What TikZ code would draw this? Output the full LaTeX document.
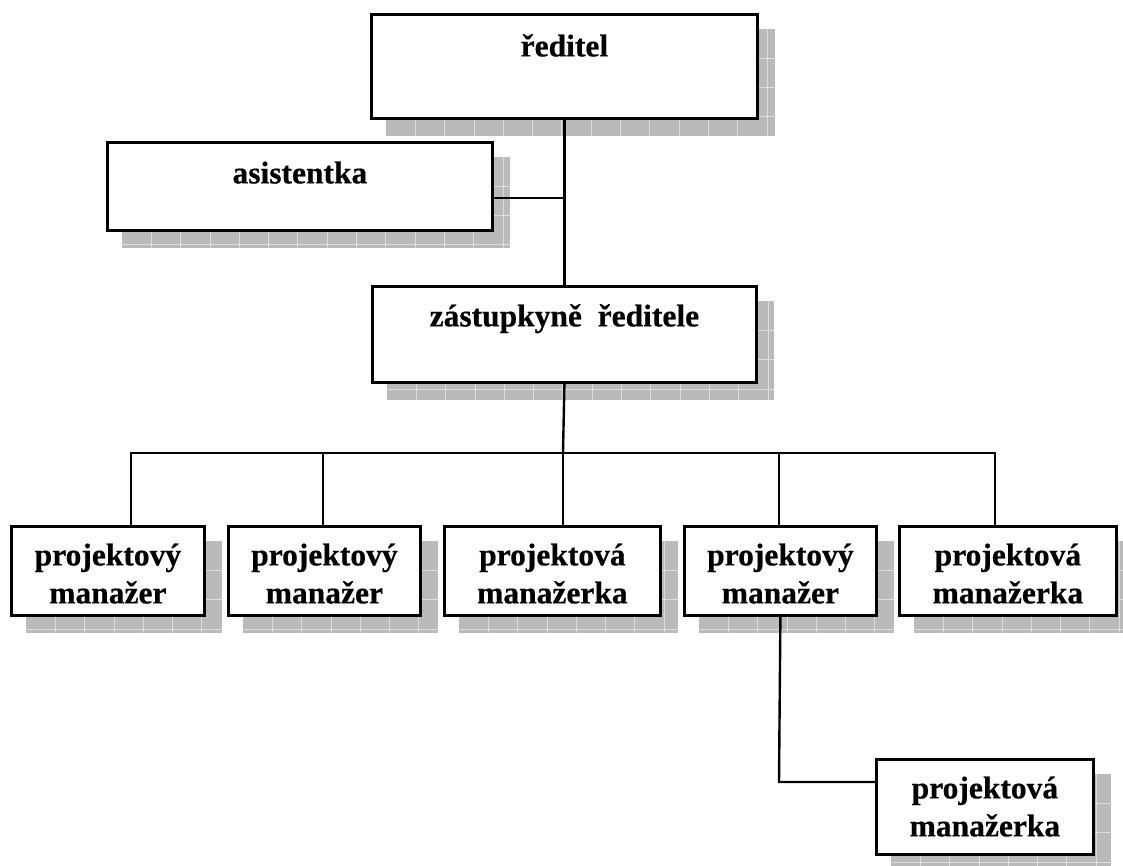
\documentclass[tikz,border=0pt]{standalone}
\usepackage{fontspec}
\setmainfont{Liberation Serif}[BoldFeatures={FakeBold=0.5}]
\usetikzlibrary{backgrounds}
\newcommand\orgfont{\fontsize{31.5}{38}\selectfont\bfseries}
\tikzset{
  unit/.style={draw, fill=white, line width=2.8pt, inner sep=0pt, anchor=north west, font=\orgfont, align=center},
  link/.style={line width=2.4pt},
  shadowfill/.style={fill=black!27},
  shadowgrid/.style={draw=black!13, line width=0.8pt}
}
\begin{document}
\begin{tikzpicture}[x=1pt,y=-1pt]
\useasboundingbox (0,0) rectangle (1123,866);
% top
\node[unit, minimum width=386pt, text height=42pt, text depth=62pt] (reditel) at (370,13) {ředitel};
\node[unit, minimum width=385pt, text height=41pt, text depth=47pt] (asistentka) at (106,141) {asistentka};
\node[unit, minimum width=384pt, text height=40pt, text depth=56pt] (zastupkyne) at (371,285) {zástupkyně\ \ ředitele};
% row of managers
\node[unit, minimum width=193pt, text height=77pt, text depth=12pt] (p1) at (10,525) {projektový\\manažer};
\node[unit, minimum width=192pt, text height=77pt, text depth=12pt] (p2) at (227,525) {projektový\\manažer};
\node[unit, minimum width=216pt, text height=77pt, text depth=12pt] (p3) at (443,525) {projektová\\manažerka};
\node[unit, minimum width=192pt, text height=77pt, text depth=12pt] (p4) at (683,525) {projektový\\manažer};
\node[unit, minimum width=217pt, text height=77pt, text depth=12pt] (p5) at (898,525) {projektová\\manažerka};
\node[unit, minimum width=217pt, text height=77pt, text depth=18pt] (p6) at (875,758) {projektová\\manažerka};
% shadows
\begin{scope}[on background layer]
\foreach \n in {reditel,asistentka,zastupkyne,p1,p2,p3,p4,p5,p6}{
  \begin{scope}
    \clip ([shift={(16,16)}]\n.north west) rectangle ([shift={(16,16)}]\n.south east);
    \fill[shadowfill] ([shift={(16,16)}]\n.north west) rectangle ([shift={(16,16)}]\n.south east);
    \foreach \k in {1,...,14}{\draw[shadowgrid] ([shift={(16+29.3*\k,16)}]\n.north west) -- ++(0,130);}
    \foreach \k in {1,...,4}{\draw[shadowgrid] ([shift={(16,16+29.3*\k)}]\n.north west) -- ++(420,0);}
  \end{scope}
}
\end{scope}
% connectors
\coordinate (asj) at (563,198);
\coordinate (bus) at (563,453);
\draw[link] (reditel.south) -- (zastupkyne.north);
\draw[link] (asistentka.east |- asj) -- (asj);
\draw[link] (zastupkyne.south) -- (bus);
\foreach \i/\x in {1/131,2/323,3/563,4/779,5/995}
  \coordinate (b\i) at (\x,453);
\draw[link,line cap=rect] (b1) -- (b5);
\foreach \i in {1,...,5}
  \draw[link] (b\i) -- (b\i |- p\i.north);
\coordinate (elb) at (779,782);
\draw[link,line join=miter] (p4.south) -- (elb) -- (elb -| p6.west);
\end{tikzpicture}
\end{document}
